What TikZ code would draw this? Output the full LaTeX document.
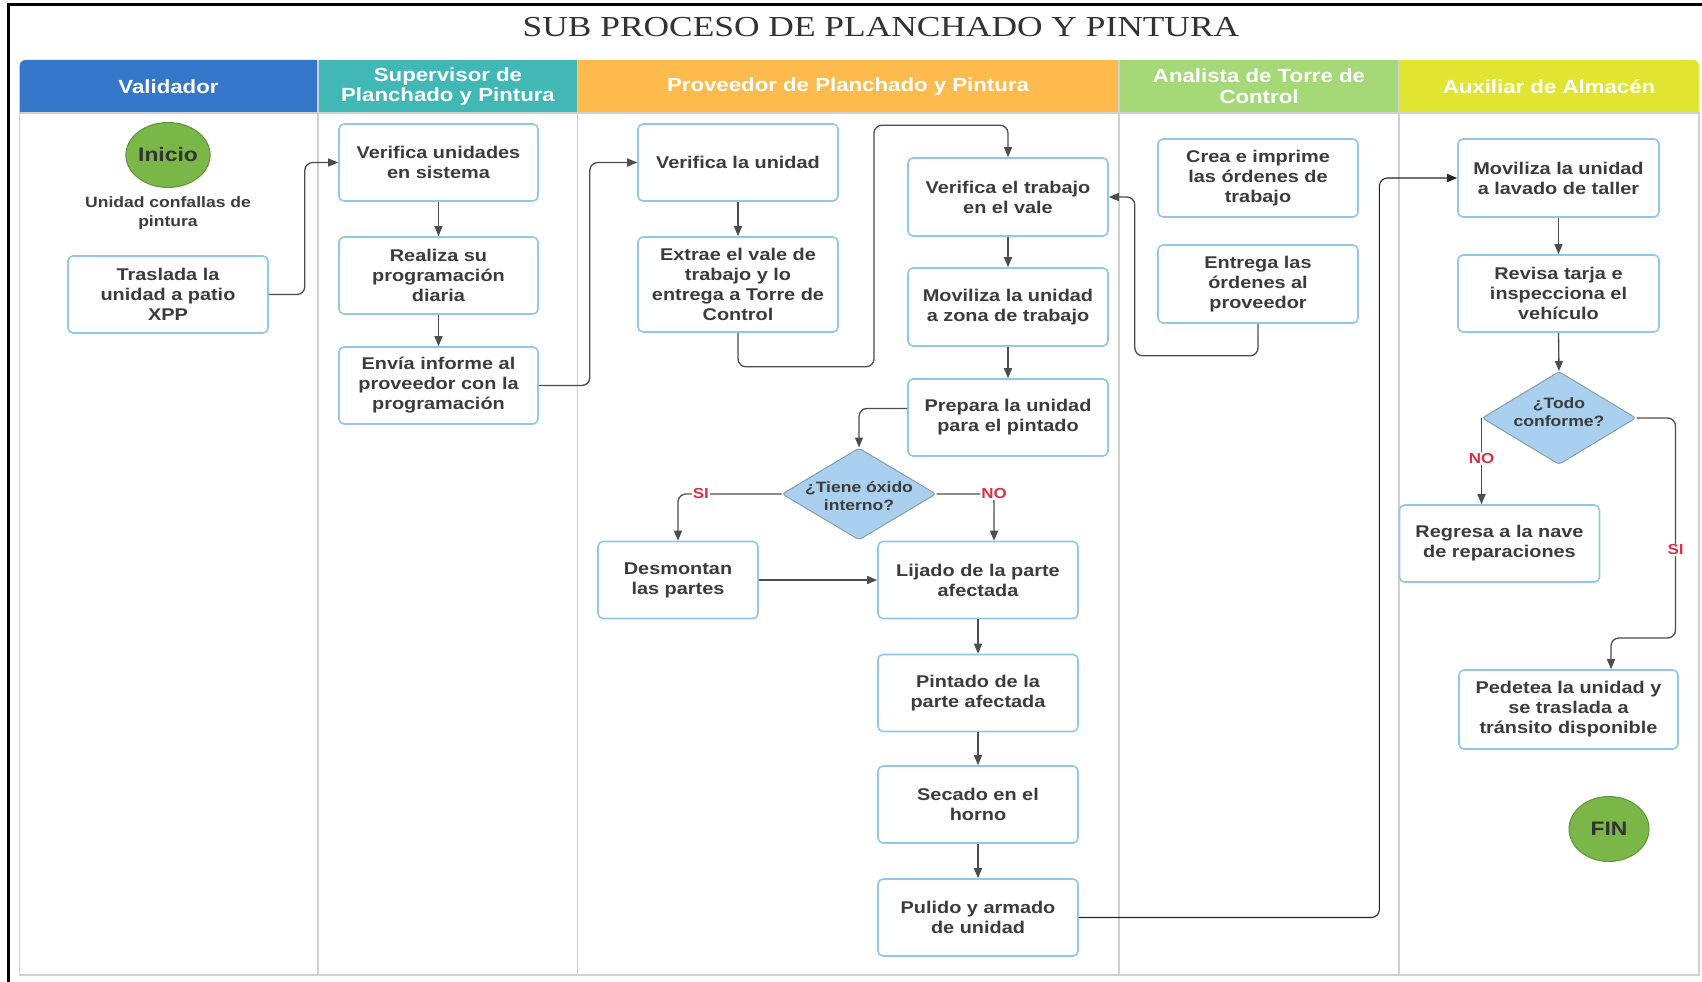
\documentclass[tikz,border=0pt]{standalone}
\usepackage{fontspec}
\setmainfont{Liberation Sans}
\newfontfamily\wide{Liberation Sans}[FakeStretch=1.17]
\newfontfamily\titlefont{Liberation Serif}[FakeStretch=1.22]
\usetikzlibrary{shapes.geometric,arrows.meta,calc}

\definecolor{hdrA}{HTML}{3577C8}
\definecolor{hdrB}{HTML}{41B8B6}
\definecolor{hdrC}{HTML}{FDBA4D}
\definecolor{hdrD}{HTML}{A5D877}
\definecolor{hdrE}{HTML}{E0E531}
\definecolor{boxline}{HTML}{92C6EA}
\definecolor{txt}{HTML}{3C3C3C}
\definecolor{lanegray}{HTML}{D0D0D0}
\definecolor{dec}{HTML}{A9D1EF}
\definecolor{decline}{HTML}{8C9CA8}
\definecolor{startg}{HTML}{7AB648}
\definecolor{startline}{HTML}{5E9540}
\definecolor{yes}{HTML}{DA3045}
\definecolor{wire}{HTML}{4D4D4D}

\begin{document}
\begin{tikzpicture}[x=1pt,y=-1pt,
  proc/.style={draw=boxline, line width=1.6pt, fill=white, rounded corners=5pt,
    align=center, text=txt, inner sep=0pt, minimum width=200pt, minimum height=77pt,
    font=\wide\bfseries\fontsize{17}{20}\selectfont},
  hdr/.style={align=center, text=white, font=\wide\bfseries\fontsize{19}{20.6}\selectfont},
  terminal/.style={ellipse, fill=startg, draw=startline, line width=1pt,
    minimum width=80pt, minimum height=65pt, inner sep=0pt, text=black!80,
    font=\wide\bfseries\fontsize{19.5}{21}\selectfont},
  dia/.style={diamond, fill=dec, draw=decline, line width=1pt, inner sep=0pt,
    minimum width=154pt, minimum height=92pt, rounded corners=3pt},
  diatext/.style={align=center, text=txt, inner sep=0pt,
    font=\wide\bfseries\fontsize{15}{18.5}\selectfont},
  note/.style={align=center, text=txt, inner sep=0pt,
    font=\wide\bfseries\fontsize{15}{18.5}\selectfont},
  lbl/.style={text=yes, fill=white, inner sep=1pt,
    font=\wide\bfseries\fontsize{14.5}{16}\selectfont},
  flow/.style={draw=wire, line width=1.3pt, rounded corners=8pt,
    -{Triangle[length=10pt,width=8pt]}},
  laneline/.style={draw=lanegray, line width=1.8pt}
]
\useasboundingbox (0,0) rectangle (1702,982);
\fill[white] (0,0) rectangle (1702,982);

% outer frame (top and left edges)
\draw[line width=2.5pt] (8.5,982) -- (8.5,4.5) -- (1702,4.5);

% title
\node[text=black!80, font=\titlefont\fontsize{29}{32}\selectfont] (title) at (881,27)
  {SUB PROCESO DE PLANCHADO Y PINTURA};

% lane headers
\fill[hdrA] (19.5,113) [rounded corners=6pt]-- (19.5,60) [sharp corners]-- (318,60) -- (318,113) -- cycle;
\fill[hdrB] (318,60) rectangle (577.5,113);
\fill[hdrC] (577.5,60) rectangle (1119,113);
\fill[hdrD] (1119,60) rectangle (1399,113);
\fill[hdrE] (1399,113) -- (1399,60) [rounded corners=6pt]-- (1699,60) [sharp corners]-- (1699,113) -- cycle;

\node[hdr] (hA) at (168.5,86.5) {Validador};
\node[hdr] (hB) at (448,86.5) {Supervisor de\\Planchado y Pintura};
\node[hdr] (hC) at (848,86.5) {Proveedor de Planchado y Pintura};
\node[hdr] (hD) at (1259,86.5) {Analista de Torre de\\Control};
\node[hdr] (hE) at (1549,86.5) {Auxiliar de Almacén};

% lane bodies
\draw[laneline] (19.5,113) rectangle (1699,975);
\draw[laneline] (19.5,113) -- (1699,113);
\foreach \lx in {318,577.5,1119,1399}
  \draw[laneline] (\lx,60) -- (\lx,975);

% Validador
\node[terminal] (inicio) at (168,155) {Inicio};
\node[note] (nota) at (168,213) {Unidad confallas de\\pintura};
\node[proc] (trasl) at (168,294.5) {Traslada la\\unidad a patio\\XPP};

% Supervisor de Planchado y Pintura
\node[proc, minimum width=199pt] (verU) at (438.5,162.5) {Verifica unidades\\en sistema};
\node[proc, minimum width=199pt] (realiza) at (438.5,275.5) {Realiza su\\programación\\diaria};
\node[proc, minimum width=199pt] (envia) at (438.5,385.5) {Envía informe al\\proveedor con la\\programación};

% Proveedor de Planchado y Pintura
\node[proc] (verLa) at (738,162.5) {Verifica la unidad};
\node[proc, minimum height=95pt] (extrae) at (738,284.5) {Extrae el vale de\\trabajo y lo\\entrega a Torre de\\Control};
\node[proc, minimum height=78pt] (verTrab) at (1008,197) {Verifica el trabajo\\en el vale};
\node[proc, minimum height=78pt] (movZona) at (1008,307) {Moviliza la unidad\\a zona de trabajo};
\node[proc] (prepara) at (1008,417.5) {Prepara la unidad\\para el pintado};
\node[dia] (dTiene) at (859,494) {};
\node[diatext] (tTiene) at (859,496) {¿Tiene óxido\\interno?};
\node[proc, minimum width=160pt] (desm) at (678,580) {Desmontan\\las partes};
\node[proc] (lijado) at (978,580) {Lijado de la parte\\afectada};
\node[proc] (pintado) at (978,693) {Pintado de la\\parte afectada};
\node[proc] (secado) at (978,804.5) {Secado en el\\horno};
\node[proc] (pulido) at (978,917.5) {Pulido y armado\\de unidad};

% Analista de Torre de Control
\node[proc, minimum height=78pt] (crea) at (1258,178) {Crea e imprime\\las órdenes de\\trabajo};
\node[proc, minimum height=78pt] (entrega) at (1258,284) {Entrega las\\órdenes al\\proveedor};

% Auxiliar de Almacén
\node[proc, minimum width=201pt, minimum height=78pt] (movLav) at (1558.5,178) {Moviliza la unidad\\a lavado de taller};
\node[proc, minimum width=201pt] (revisa) at (1558.5,293.5) {Revisa tarja e\\inspecciona el\\vehículo};
\node[dia, minimum height=93pt] (dTodo) at (1559,418) {};
\node[diatext] (tTodo) at (1559,412) {¿Todo\\conforme?};
\node[proc] (regresa) at (1499.5,543.5) {Regresa a la nave\\de reparaciones};
\node[proc, minimum width=219pt, minimum height=79pt] (pedetea) at (1568.5,709.5) {Pedetea la unidad y\\se traslada a\\tránsito disponible};
\node[terminal] (fin) at (1609,829) {FIN};

% connectors
\draw[flow] (trasl.east) -- ++(36,0) |- (verU.west);
\draw[flow] (verU.south) -- (realiza.north);
\draw[flow] (realiza.south) -- (envia.north);
\draw[flow] (envia.east) -- ++(51,0) |- (verLa.west);
\draw[flow] (verLa.south) -- (extrae.north);
\draw[flow] (extrae.south) -- ++(0,34) -- ++(136,0) |- ($(verTrab.north)+(0,-32)$) -- (verTrab.north);
\draw[flow] (verTrab.south) -- (movZona.north);
\draw[flow] (movZona.south) -- (prepara.north);
\draw[flow] ([yshift=9pt]prepara.west) -| (dTiene.north);
\draw[flow] (dTiene.west) -| (desm.north) node[lbl, pos=0.39] {SI};
\draw[flow] (dTiene.east) -| ([xshift=16pt]lijado.north) node[lbl, pos=0.5] {NO};
\draw[flow] (desm.east) -- (lijado.west);
\draw[flow] (lijado.south) -- (pintado.north);
\draw[flow] (pintado.south) -- (secado.north);
\draw[flow] (secado.south) -- (pulido.north);
\draw[flow, draw=black!85, line width=1.1pt] (pulido.east) -- ++(300.6,0) |- (movLav.west);
\draw[flow] (entrega.south) -- ++(0,32) -| ($(verTrab.east)+(26,0)$) -- (verTrab.east);
\draw[flow] (movLav.south) -- (revisa.north);
\draw[flow] (revisa.south) -- (dTodo.north);
\draw[flow] (dTodo.west) -- (dTodo.west |- regresa.north) node[lbl, pos=0.47] {NO};
\draw[flow] (dTodo.east) -- ++(39,0) -- ++(0,220) node[lbl, pos=0.6] {SI} -| ([xshift=42.5pt]pedetea.north);
\end{tikzpicture}
\end{document}
